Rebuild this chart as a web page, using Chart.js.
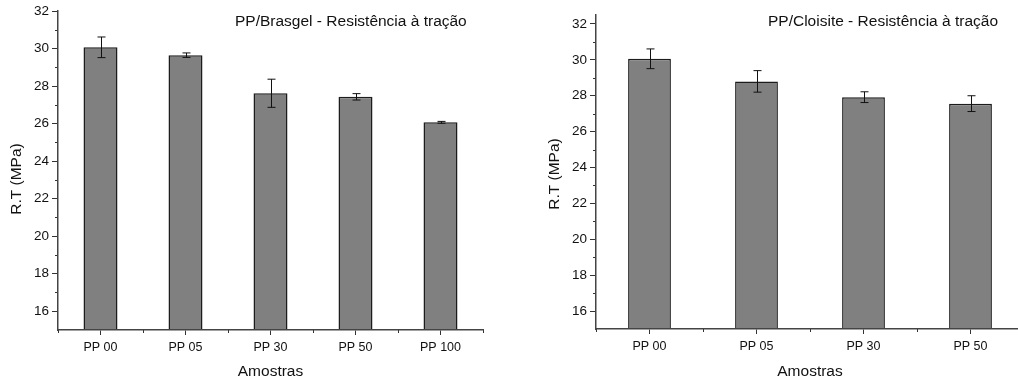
<!DOCTYPE html>
<html>
<head>
<meta charset="utf-8">
<script src="https://cdn.jsdelivr.net/npm/chart.js"></script>
<style>
  html, body { margin: 0; padding: 0; background: #fff; overflow: hidden; width: 1018px; height: 382px; }
  #brasgel_barchart { position: absolute; left: 0; top: 0; }
  #cloisite_barchart { position: absolute; left: 505px; top: 0; }
</style>
</head>
<body>
<canvas id="brasgel_barchart" width="505" height="382"></canvas>
<canvas id="cloisite_barchart" width="540" height="382"></canvas>
<script>
// dados PP/Brasgel
const brasgelLabels = ['PP 00', 'PP 05', 'PP 30', 'PP 50', 'PP 100'];
const brasgelValues = [30.07, 29.65, 27.62, 27.43, 26.07];
const brasgelErrors = [0.55, 0.12, 0.75, 0.17, 0.05];

// dados PP/Cloisite
const cloisiteLabels = ['PP 00', 'PP 05', 'PP 30', 'PP 50'];
const cloisiteValues = [30.06, 28.80, 27.92, 27.56];
const cloisiteErrors = [0.55, 0.60, 0.30, 0.44];

// eixo Y
const yTicks = [16, 18, 20, 22, 24, 26, 28, 30, 32];
const yMinorTicks = [17, 19, 21, 23, 25, 27, 29, 31];

const FONT = '"Liberation Sans", Arial, sans-serif';
Chart.defaults.font.family = FONT;

document.addEventListener("DOMContentLoaded", function () {
  brasgel_barchart();
  cloisite_barchart();
});

// barras de erro, ticks menores e textos
function makeExtras(values, errors, title, titleX, yTitleX, yTitleY) {
  return {
    id: 'extras',
    afterDatasetsDraw(chart) {
      const ctx = chart.ctx;
      const x = chart.scales.x;
      const y = chart.scales.y;
      const area = chart.chartArea;
      ctx.save();

      // barras de erro
      ctx.strokeStyle = '#111';
      ctx.lineWidth = 1;
      values.forEach(function (v, i) {
        const px = Math.round(x.getPixelForValue(i)) + 0.5;
        const top = y.getPixelForValue(v + errors[i]);
        const bot = y.getPixelForValue(v - errors[i]);
        ctx.beginPath();
        ctx.moveTo(px, top); ctx.lineTo(px, bot);
        ctx.moveTo(px - 4, top); ctx.lineTo(px + 4, top);
        ctx.moveTo(px - 4, bot); ctx.lineTo(px + 4, bot);
        ctx.stroke();
      });

      // ticks menores
      ctx.strokeStyle = '#333';
      ctx.beginPath();
      yMinorTicks.forEach(function (v) {
        const py = Math.round(y.getPixelForValue(v)) + 0.5;
        ctx.moveTo(area.left - 3, py); ctx.lineTo(area.left, py);
      });
      const step = x.getPixelForValue(1) - x.getPixelForValue(0);
      for (let i = 0; i <= values.length; i++) {
        const px = Math.round(x.getPixelForValue(i) - step / 2) + 0.5;
        ctx.moveTo(px, area.bottom); ctx.lineTo(px, area.bottom + 3);
      }
      ctx.stroke();

      // textos
      ctx.fillStyle = '#111';
      ctx.font = '15.5px ' + FONT;
      ctx.textAlign = 'left';
      ctx.textBaseline = 'alphabetic';
      ctx.fillText(title, titleX, 26);

      ctx.textAlign = 'center';
      ctx.textBaseline = 'middle';
      ctx.fillText('Amostras', (area.left + area.right) / 2, 372);

      ctx.translate(yTitleX, yTitleY);
      ctx.rotate(-Math.PI / 2);
      ctx.fillText('R.T (MPa)', 0, 0);
      ctx.restore();
    }
  };
}

function makeOptions(yMax, yWidth, xHeight, padding) {
  return {
    responsive: false,
    animation: false,
    layout: { padding: padding },
    plugins: { legend: { display: false }, tooltip: { enabled: false } },
    scales: {
      x: {
        grid: { display: true, offset: false, drawOnChartArea: false, drawTicks: true, tickLength: 5, tickColor: '#333' },
        border: { display: true, color: '#444', width: 1.5, z: 1 },
        ticks: { color: '#111', font: { size: 12.5 }, padding: 5, maxRotation: 0 },
        afterFit: function (scale) { scale.height = xHeight; }
      },
      y: {
        min: 15,
        max: yMax,
        grid: { display: true, drawOnChartArea: false, drawTicks: true, tickLength: 6, tickColor: '#333' },
        border: { display: true, color: '#444', width: 1.5, z: 1 },
        ticks: { color: '#111', font: { size: 13.5 }, padding: 3 },
        afterBuildTicks: function (scale) {
          scale.ticks = yTicks.map(function (v) { return { value: v }; });
        },
        afterFit: function (scale) { scale.width = yWidth; }
      }
    }
  };
}

function makeDataset(values) {
  return {
    data: values,
    backgroundColor: '#808080',
    borderColor: '#1c1c1c',
    borderWidth: 1.5,
    barPercentage: 0.4,
    categoryPercentage: 1.0
  };
}

// PP/Brasgel - Resistência à tração
function brasgel_barchart() {
  const ctx = document.getElementById('brasgel_barchart').getContext('2d');
  new Chart(ctx, {
    type: 'bar',
    data: { labels: brasgelLabels, datasets: [makeDataset(brasgelValues)] },
    options: makeOptions(32, 58, 52, { top: 11, right: 22, bottom: 0, left: 0 }),
    plugins: [makeExtras(brasgelValues, brasgelErrors, 'PP/Brasgel - Resistência à tração', 235, 16.5, 179)]
  });
}

// PP/Cloisite - Resistência à tração
function cloisite_barchart() {
  const ctx = document.getElementById('cloisite_barchart').getContext('2d');
  new Chart(ctx, {
    type: 'bar',
    data: { labels: cloisiteLabels, datasets: [makeDataset(cloisiteValues)] },
    options: makeOptions(32.5, 91, 53, { top: 15, right: 21, bottom: 0, left: 0 }),
    plugins: [makeExtras(cloisiteValues, cloisiteErrors, 'PP/Cloisite - Resistência à tração', 263, 50, 174)]
  });
}
</script>
</body>
</html>
